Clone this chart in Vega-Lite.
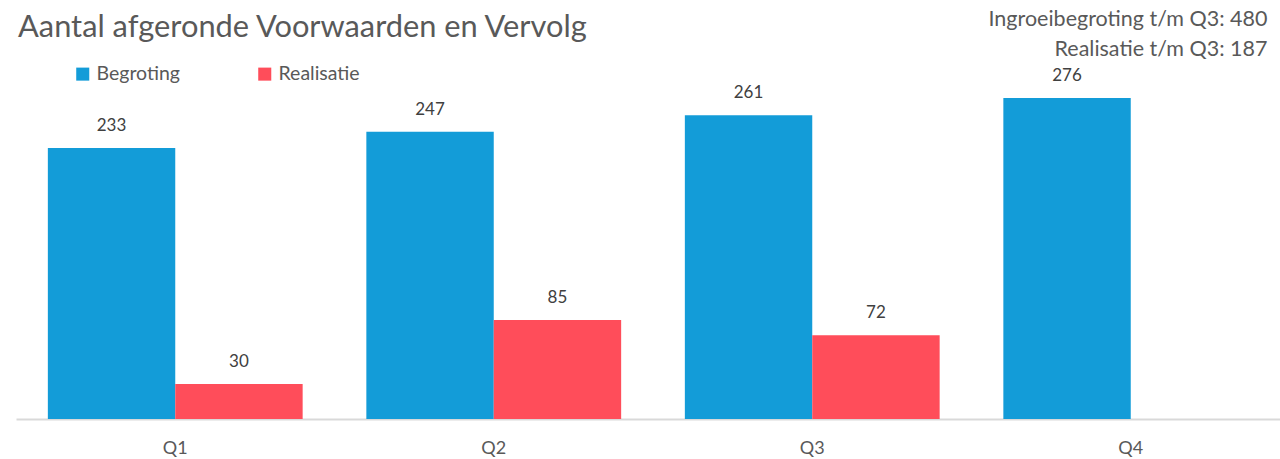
{
  "$schema": "https://vega.github.io/schema/vega-lite/v6.json",
  "width": 1274,
  "height": 349,
  "autosize": {"type": "none"},
  "padding": {"left": 16, "top": 70, "right": 0, "bottom": 40},
  "background": "white",
  "title": {
    "text": "Aantal afgeronde Voorwaarden en Vervolg",
    "anchor": "start",
    "frame": "group",
    "orient": "top",
    "fontSize": 30.8,
    "fontWeight": "normal",
    "font": "Lato",
    "color": "#595959",
    "baseline": "alphabetic",
    "dx": 2,
    "offset": -60
  },
  "data": {
    "values": [
      {"kwartaal": "Q1", "reeks": "Begroting", "waarde": 233},
      {"kwartaal": "Q1", "reeks": "Realisatie", "waarde": 30},
      {"kwartaal": "Q2", "reeks": "Begroting", "waarde": 247},
      {"kwartaal": "Q2", "reeks": "Realisatie", "waarde": 85},
      {"kwartaal": "Q3", "reeks": "Begroting", "waarde": 261},
      {"kwartaal": "Q3", "reeks": "Realisatie", "waarde": 72},
      {"kwartaal": "Q4", "reeks": "Begroting", "waarde": 276}
    ]
  },
  "encoding": {
    "x": {
      "field": "kwartaal",
      "type": "nominal",
      "sort": ["Q1", "Q2", "Q3", "Q4"],
      "scale": {"paddingInner": 0.2, "paddingOuter": 0.1},
      "axis": {
        "title": null,
        "labelAngle": 0,
        "labelFont": "Lato",
        "labelFontSize": 18,
        "labelColor": "#595959",
        "labelPadding": 20,
        "ticks": false,
        "domainColor": "#d9d9d9",
        "domainWidth": 2
      }
    },
    "xOffset": {
      "field": "reeks",
      "type": "nominal",
      "scale": {"domain": ["Begroting", "Realisatie"], "paddingInner": 0, "paddingOuter": 0}
    },
    "y": {
      "field": "waarde",
      "type": "quantitative",
      "scale": {"domain": [0, 300], "nice": false},
      "axis": {
        "orient": "right",
        "grid": false,
        "domain": false,
        "ticks": false,
        "labels": false,
        "title": ["Ingroeibegroting t/m Q3: 480", "Realisatie t/m Q3: 187"],
        "titleAngle": 0,
        "titleAlign": "right",
        "titleBaseline": "alphabetic",
        "titleX": -23,
        "titleY": -45,
        "titleFont": "Lato",
        "titleFontSize": 21.5,
        "titleFontWeight": "normal",
        "titleColor": "#595959",
        "titleLineHeight": 30
      }
    }
  },
  "layer": [
    {
      "mark": {"type": "bar"},
      "encoding": {
        "color": {
          "field": "reeks",
          "type": "nominal",
          "scale": {"domain": ["Begroting", "Realisatie"], "range": ["#139CD8", "#FF4D5A"]},
          "legend": {
            "title": null,
            "orient": "none",
            "direction": "horizontal",
            "legendX": 57,
            "legendY": -6,
            "symbolType": "square",
            "symbolSize": 170,
            "symbolStrokeWidth": 0,
            "labelFont": "Lato",
            "labelFontSize": 19.5,
            "labelColor": "#595959",
            "labelOffset": 4,
            "columnPadding": 74
          }
        }
      }
    },
    {
      "mark": {"type": "text", "dy": -22, "font": "Lato", "fontSize": 17, "color": "#404040"},
      "encoding": {"text": {"field": "waarde", "type": "quantitative"}}
    }
  ],
  "config": {"view": {"stroke": null}}
}
